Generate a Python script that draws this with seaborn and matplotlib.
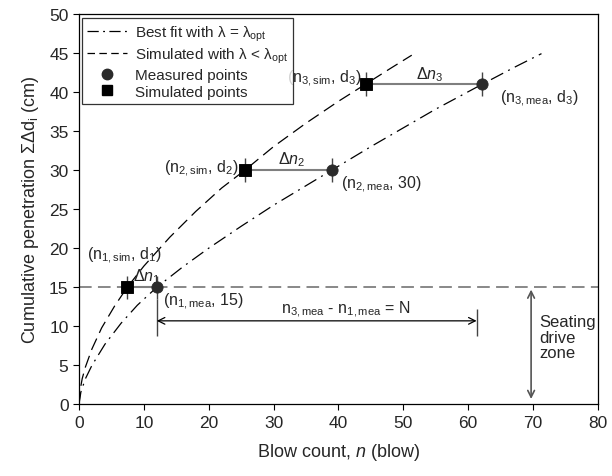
import matplotlib
matplotlib.use("Agg")
import matplotlib.pyplot as plt
from matplotlib.lines import Line2D
import seaborn as sns
import pandas as pd

# ---- data ----
best_n = [0, 0.3, 1, 2, 4, 6.5, 9, 12, 16, 20, 25, 30, 35, 39, 45, 50, 55, 62.2, 67, 71.3]
best_d = [0, 1.6, 3.3, 5.0, 7.7, 10.4, 12.7, 15, 17.6, 20.0, 22.8, 25.5, 28.0, 30, 33.0, 35.4, 37.8, 41, 43.1, 44.9]
sim_n = [0, 0.2, 0.5, 1, 2, 3.5, 5.5, 7.45, 10, 14, 18, 22, 25.6, 30, 35, 40, 44.2, 48, 51.3]
sim_d = [0, 1.9, 3.3, 4.8, 7.1, 9.8, 12.6, 15, 17.7, 21.4, 24.7, 27.7, 30, 33.0, 36.0, 38.8, 41, 43.0, 44.7]
meas_n = [12, 39, 62.2]
meas_d = [15, 30, 41]
simp_n = [7.45, 25.6, 44.2]
simp_d = [15, 30, 41]
seating_depth = 15
n_start, n_end, n_arrow_y = 12, 61.3, 10.7

sns.set_theme(style="ticks")
plt.rcParams["font.family"] = ["Liberation Sans", "DejaVu Sans"]
plt.rcParams["mathtext.fontset"] = "custom"
plt.rcParams["mathtext.rm"] = "Liberation Sans"
plt.rcParams["mathtext.it"] = "Liberation Sans:italic"
plt.rcParams["mathtext.bf"] = "Liberation Sans:bold"

fig = plt.figure(figsize=(6.12, 4.77), dpi=100)
ax = fig.add_axes([0.129, 0.150, 0.848, 0.819])

df_best = pd.DataFrame({"n": best_n, "d": best_d})
df_sim = pd.DataFrame({"n": sim_n, "d": sim_d})

# seating line
ax.axhline(seating_depth, color="#7f7f7f", lw=1.3, dashes=(7, 3.5), zorder=1)

sns.lineplot(data=df_best, x="n", y="d", ax=ax, color="black", lw=0.9,
             sort=False, estimator=None, zorder=3).lines[-1].set_dashes((11, 4.5, 1.5, 4.5))
sns.lineplot(data=df_sim, x="n", y="d", ax=ax, color="black", lw=0.9,
             sort=False, estimator=None, zorder=3).lines[-1].set_dashes((10, 5))

# connecting lines and vertical marks
ax.hlines(meas_d, simp_n, meas_n, color="#7f7f7f", lw=1.5, zorder=2)
ax.vlines(meas_n, [d - 1.5 for d in meas_d], [d + 1.5 for d in meas_d], color="#444444", lw=1, zorder=2)
ax.vlines(simp_n, [d - 1.5 for d in simp_d], [d + 1.5 for d in simp_d], color="#444444", lw=1, zorder=2)

sns.scatterplot(x=meas_n, y=meas_d, ax=ax, marker="o", s=65, color="#2b2b2b", edgecolor="#2b2b2b", zorder=5)
sns.scatterplot(x=simp_n, y=simp_d, ax=ax, marker="s", s=65, color="black", edgecolor="black", zorder=5)

fs = 11.5
# point labels
ax.text(1.2, 19.2, r"(n$_\mathregular{1,sim}$, d$_\mathregular{1}$)", fontsize=fs, va="center", ha="left")
ax.text(12.9, 13.2, r"(n$_\mathregular{1,mea}$, 15)", fontsize=fs, va="center", ha="left")
ax.text(24.6, 30.3, r"(n$_\mathregular{2,sim}$, d$_\mathregular{2}$)", fontsize=fs, va="center", ha="right")
ax.text(40.4, 28.2, r"(n$_\mathregular{2,mea}$, 30)", fontsize=fs, va="center", ha="left")
ax.text(43.6, 41.8, r"(n$_\mathregular{3,sim}$, d$_\mathregular{3}$)", fontsize=fs, va="center", ha="right")
ax.text(64.9, 39.3, r"(n$_\mathregular{3,mea}$, d$_\mathregular{3}$)", fontsize=fs, va="center", ha="left")

ax.text(10.4, 15.3, r"$\mathit{Δn}_\mathregular{1}$", fontsize=fs, va="bottom", ha="center")
ax.text(32.8, 30.2, r"$\mathit{Δn}_\mathregular{2}$", fontsize=fs, va="bottom", ha="center")
ax.text(54.0, 41.2, r"$\mathit{Δn}_\mathregular{3}$", fontsize=fs, va="bottom", ha="center")

# N arrow
ax.annotate("", xy=(n_end, n_arrow_y), xytext=(n_start, n_arrow_y),
            arrowprops=dict(arrowstyle="<->", color="black", lw=0.9, shrinkA=0, shrinkB=0))
ax.vlines([n_start, n_end], [8.8, 8.8], [13.5, 12.2], color="#444444", lw=1, zorder=2)
ax.text((n_start + n_end) / 2 + 4.5, n_arrow_y + 0.3,
        r"n$_\mathregular{3,mea}$ - n$_\mathregular{1,mea}$ = N", fontsize=fs, va="bottom", ha="center")

# seating drive zone
ax.annotate("", xy=(69.7, 0.7), xytext=(69.7, 14.7),
            arrowprops=dict(arrowstyle="<->", color="#555555", lw=1.2, shrinkA=0, shrinkB=0))
ax.text(70.9, 8.6, "Seating\ndrive\nzone", fontsize=12, va="center", ha="left", linespacing=1.05)

ax.set_xlim(0, 80)
ax.set_ylim(0, 50)
ax.set_xticks(range(0, 81, 10))
ax.set_yticks(range(0, 51, 5))
ax.tick_params(axis="both", labelsize=12.5, length=4, width=0.8, color="black", direction="out")
ax.set_xlabel(r"Blow count, $\mathit{n}$ (blow)", fontsize=13, labelpad=8)
ax.set_ylabel(r"Cumulative penetration ΣΔd$_\mathregular{i}$ (cm)", fontsize=13, labelpad=6)
for sp in ax.spines.values():
    sp.set_visible(True)
    sp.set_color("black")
    sp.set_linewidth(0.9)

handles = [
    Line2D([], [], color="black", lw=0.9, dashes=(9, 3.5, 1.5, 3.5)),
    Line2D([], [], color="black", lw=0.9, dashes=(6, 3.5)),
    Line2D([], [], color="#2b2b2b", marker="o", ls="none", ms=7.5),
    Line2D([], [], color="black", marker="s", ls="none", ms=7.5),
]
labels = [r"Best fit with λ = λ$_\mathregular{opt}$",
          r"Simulated with λ < λ$_\mathregular{opt}$",
          "Measured points", "Simulated points"]
leg = ax.legend(handles, labels, loc="upper left", bbox_to_anchor=(0.006, 0.988),
                borderaxespad=0, fontsize=11, frameon=True, fancybox=False,
                handlelength=2.6, handletextpad=0.5, labelspacing=0.18, borderpad=0.35)
leg.get_frame().set_edgecolor("black")
leg.get_frame().set_linewidth(0.9)

fig.savefig("out.png", dpi=100)
